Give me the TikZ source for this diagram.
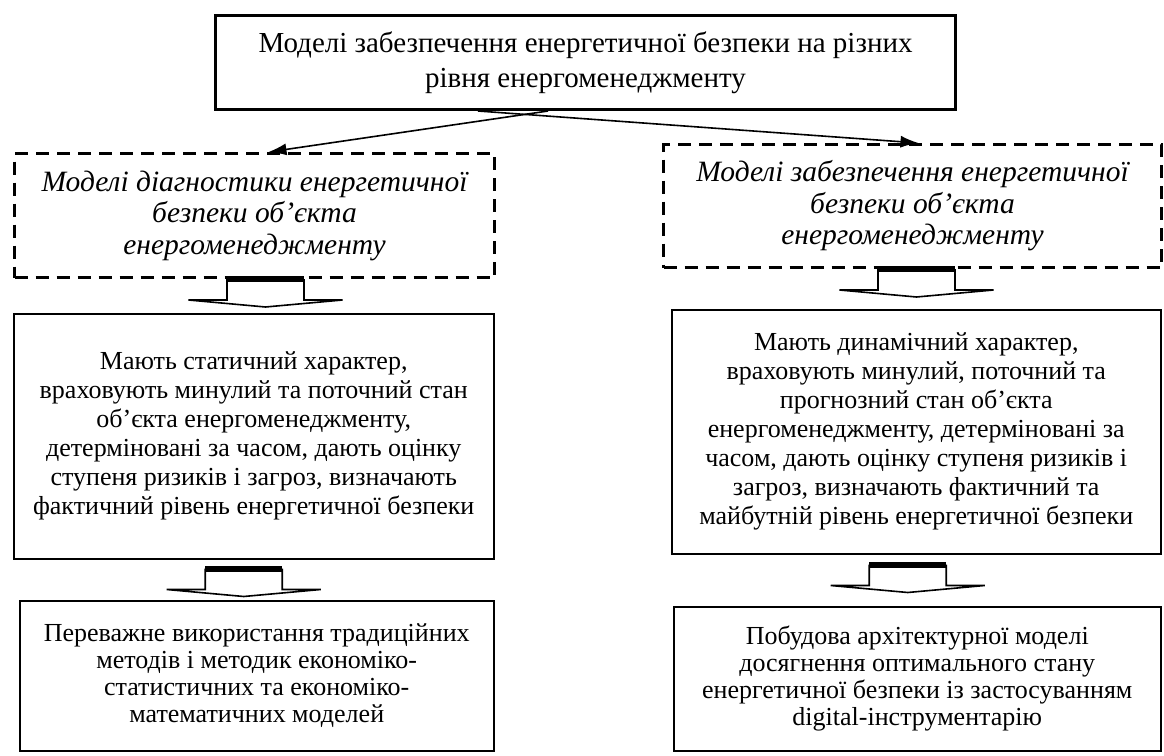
\documentclass[tikz,border=0pt]{standalone}
\usepackage{fontspec}
\setmainfont{Liberation Serif}
\usetikzlibrary{arrows.meta}

\tikzset{
  box/.style={draw, line width=0.75pt, align=center, anchor=north west, inner sep=0pt, font=\fontsize{13}{14.5}\selectfont},
  lowbox/.style={box, font=\fontsize{13}{13.5}\selectfont},
  dashbox/.style={draw, line width=1.5pt, dash pattern=on 6.5pt off 4pt, align=center, anchor=north west, inner sep=0pt, font=\fontsize{14.75}{15.75}\selectfont\itshape},
  topbox/.style={draw, line width=1.5pt, align=center, anchor=north west, inner xsep=21.5pt, inner ysep=0pt, minimum height=47pt, font=\fontsize{14.5}{17.5}\selectfont},
  link/.style={line width=0.8pt, -{Latex[length=9pt,width=6pt]}},
  blockdown/.pic={
    \draw[line width=0.8pt, fill=white] (-38.5,0) -- (-38.5,21) -- (-77,21) -- (0,28) -- (77,21) -- (38.5,21) -- (38.5,0);
    \draw[line width=3pt] (-38.5,0) -- (38.5,0);
  }
}

\begin{document}
\begin{tikzpicture}[x=0.5pt, y=-0.5pt]
\useasboundingbox (0,0) rectangle (1164,756);

\node[topbox] (top) at (214,14) {Моделі забезпечення енергетичної безпеки на різних\\рівня енергоменеджменту};

\node[dashbox, minimum width=240pt, minimum height=62pt] (ldash) at (13,152)
  {Моделі діагностики енергетичної\\безпеки об’єкта\\енергоменеджменту};
\node[dashbox, minimum width=249pt, minimum height=61.5pt] (rdash) at (662,143)
  {Моделі забезпечення енергетичної\\безпеки об’єкта\\енергоменеджменту};

\node[box, minimum width=240pt, minimum height=122.5pt] (lmid) at (13,313)
  {Мають статичний характер,\\враховують минулий та поточний стан\\об’єкта енергоменеджменту,\\детерміновані за часом, дають оцінку\\ступеня ризиків і загроз, визначають\\фактичний рівень енергетичної безпеки};
\node[box, minimum width=244.5pt, minimum height=122pt] (rmid) at (671,309)
  {Мають динамічний характер,\\враховують минулий, поточний та\\прогнозний стан об’єкта\\енергоменеджменту, детерміновані за\\часом, дають оцінку ступеня ризиків і\\загроз, визначають фактичний та\\майбутній рівень енергетичної безпеки};

\node[lowbox, minimum width=237pt, minimum height=75pt] (lbot) at (19,600)
  {Переважне використання традиційних\\методів і методик економіко-\\статистичних та економіко-\\математичних моделей};
\node[lowbox, minimum width=243.5pt, minimum height=72pt] (rbot) at (673,606)
  {Побудова архітектурної моделі\\досягнення оптимального стану\\енергетичної безпеки із застосуванням\\digital-інструментарію};

\draw[link] ([xshift=167pt]top.south west) -- ([xshift=7pt]ldash.north);
\draw[link] ([xshift=132pt]top.south west) -- ([xshift=3pt]rdash.north);

\pic at ([shift={(11,0)}]ldash.south) {blockdown};
\pic at ([shift={(-10,9)}]lmid.south) {blockdown};
\pic at ([shift={(4,0)}]rdash.south) {blockdown};
\pic at ([shift={(-8.5,10)}]rmid.south) {blockdown};
\end{tikzpicture}
\end{document}
